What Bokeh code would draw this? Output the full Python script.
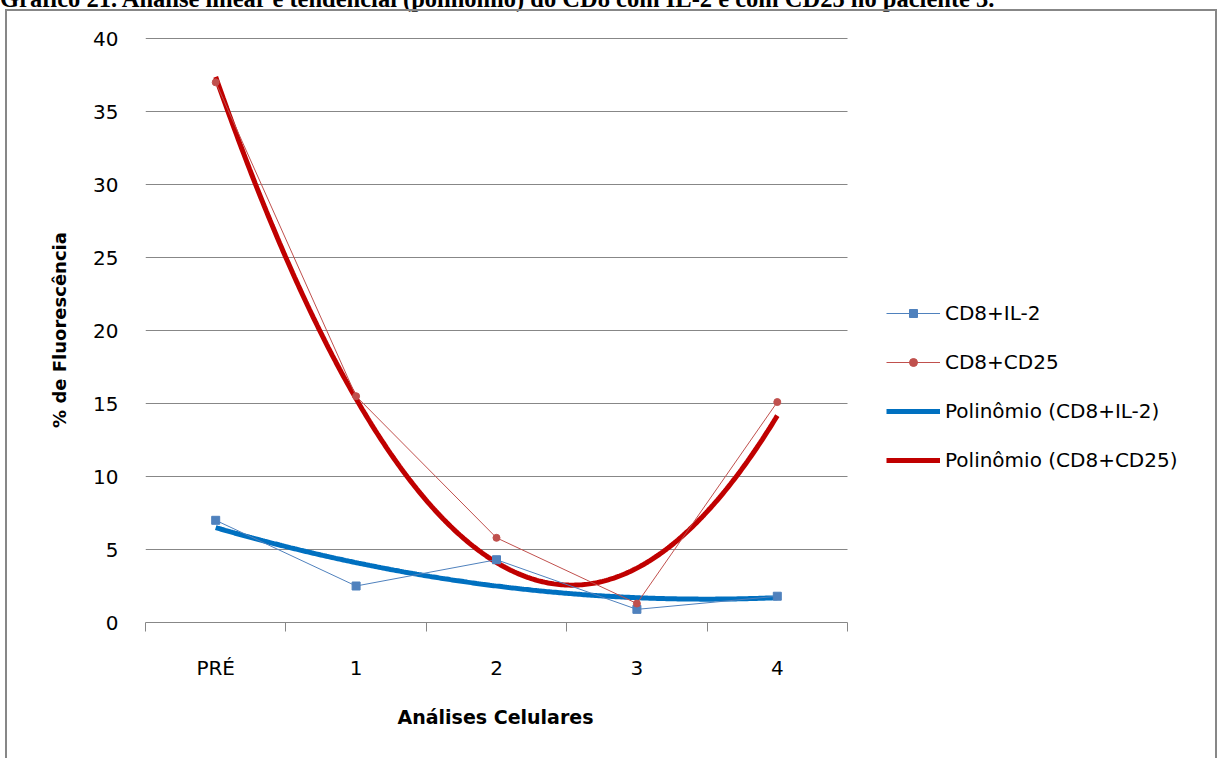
import numpy as np
from bokeh.plotting import figure
from bokeh.layouts import column
from bokeh.models import FixedTicker, Range1d, Legend, LegendItem, Div, Title
from bokeh.embed import file_html
from bokeh.resources import INLINE

# ---- data -------------------------------------------------------------
categories = ["PRÉ", "1", "2", "3", "4"]
cd8_il2 = [7.0, 2.5, 4.3, 0.9, 1.8]
cd8_cd25 = [37.0, 15.5, 5.8, 1.3, 15.1]
y_ticks = [0, 5, 10, 15, 20, 25, 30, 35, 40]

title_text = ("Gráfico 21. Análise linear e tendencial (polinômio) do CD8 "
              "com IL-2 e com CD25 no paciente 3.")
x_title = "Análises Celulares"
y_title = "% de Fluorescência"

xs = list(range(len(categories)))
boundaries = [x - 0.5 for x in xs] + [xs[-1] + 0.5]

# second-order least-squares trend lines
x_fit = np.linspace(xs[0], xs[-1], 300)
fit_il2 = np.polyval(np.polyfit(xs, cd8_il2, 2), x_fit)
fit_cd25 = np.polyval(np.polyfit(xs, cd8_cd25, 2), x_fit)

GRID = "#878787"
FONT = "DejaVu Sans"

# geometry: the frame runs on to the right edge so the legend can sit in it;
# axis and grid lines are bounded to the category span
FIG_W, FIG_H = 1208, 747
LEFT, TOP, BOTTOM = 138, 26, 136
PLOT_W = 702                       # pixel width of the category span
frame_w = FIG_W - LEFT
span = boundaries[-1] - boundaries[0]
x_end = boundaries[0] + span * frame_w / PLOT_W

p = figure(width=FIG_W, height=FIG_H, output_backend="svg",
           toolbar_location=None,
           x_range=Range1d(boundaries[0], x_end),
           y_range=Range1d(y_ticks[0], y_ticks[-1] + 0.07),
           min_border_left=LEFT, min_border_right=0,
           min_border_top=TOP, min_border_bottom=BOTTOM)
p.outline_line_color = None
p.background_fill_color = "white"
p.border_fill_color = "white"

# trend lines
r_fit_il2 = p.line(x_fit, fit_il2, line_color="#0070c0", line_width=5)
r_fit_cd25 = p.line(x_fit, fit_cd25, line_color="#c00000", line_width=5)

# measured series
r_il2_l = p.line(xs, cd8_il2, line_color="#4f81bd", line_width=1)
r_il2_m = p.scatter(xs, cd8_il2, marker="square", size=8,
                    fill_color="#4f81bd", line_color="#4f81bd")
r_cd25_l = p.line(xs, cd8_cd25, line_color="#c0504d", line_width=1)
r_cd25_m = p.scatter(xs, cd8_cd25, marker="circle", size=7,
                     fill_color="#c0504d", line_color="#c0504d")

# x axis: category labels centred, tick marks between categories
xa = p.xaxis[0]
xa.bounds = (boundaries[0], boundaries[-1])
xa.ticker = FixedTicker(ticks=xs, minor_ticks=boundaries)
xa.major_label_overrides = {x: c for x, c in zip(xs, categories)}
xa.major_tick_line_color = None
xa.major_tick_out = 0
xa.major_tick_in = 0
xa.minor_tick_line_color = GRID
xa.minor_tick_out = 9
xa.minor_tick_in = 0
xa.axis_line_color = GRID
xa.major_label_standoff = 24
xa.major_label_text_font = FONT
xa.major_label_text_font_size = "20px"
xa.major_label_text_color = "black"

# x-axis title, centred under the category span
p.add_layout(Title(text=x_title, align="left", offset=252, standoff=42,
                   text_font=FONT, text_font_style="bold",
                   text_font_size="19px", text_color="black"), "below")

# y axis
ya = p.yaxis[0]
ya.ticker = FixedTicker(ticks=y_ticks)
ya.axis_line_color = None
ya.major_tick_line_color = None
ya.minor_tick_line_color = None
ya.major_tick_out = 0
ya.major_tick_in = 0
ya.major_label_standoff = 27
ya.major_label_text_font = FONT
ya.major_label_text_font_size = "20px"
ya.major_label_text_color = "black"
ya.axis_label = y_title
ya.axis_label_text_font = FONT
ya.axis_label_text_font_style = "bold"
ya.axis_label_text_font_size = "18px"
ya.axis_label_text_color = "black"
ya.axis_label_standoff = 20

p.xgrid.visible = False
p.ygrid.ticker = FixedTicker(ticks=y_ticks)
p.ygrid.cross_bounds = (boundaries[0], boundaries[-1])
p.ygrid.grid_line_color = GRID
p.ygrid.grid_line_width = 1

# legend to the right of the category span
legend = Legend(items=[
    LegendItem(label="CD8+IL-2", renderers=[r_il2_l, r_il2_m]),
    LegendItem(label="CD8+CD25", renderers=[r_cd25_l, r_cd25_m]),
    LegendItem(label="Polinômio (CD8+IL-2)", renderers=[r_fit_il2]),
    LegendItem(label="Polinômio (CD8+CD25)", renderers=[r_fit_cd25]),
], location=(741, 150), padding=0, margin=0, spacing=25,
    glyph_width=54, glyph_height=20, label_height=20, label_standoff=5,
    border_line_color=None, background_fill_alpha=0,
    label_text_font=FONT, label_text_font_size="20px",
    label_text_color="black")
p.add_layout(legend)

# caption strip above the bordered chart
caption = Div(
    text=('<div style="white-space:nowrap; font-family:\'Liberation Serif\'; '
          'font-weight:bold; font-size:24.5px; line-height:24.5px; '
          'color:black; transform:translateY(-13.5px)">' + title_text +
          '</div>'),
    width=1222, height=9, height_policy="fixed", margin=0,
    styles={"overflow": "visible", "height": "9px"})

chart_box = column(p, margin=0, styles={
    "border-top": "2px solid " + GRID,
    "border-left": "2px solid " + GRID,
    "border-right": "2px solid " + GRID,
    "margin-left": "5px",
})

root = column(caption, chart_box, margin=0)

open("out.html", "w").write(file_html(root, INLINE))
